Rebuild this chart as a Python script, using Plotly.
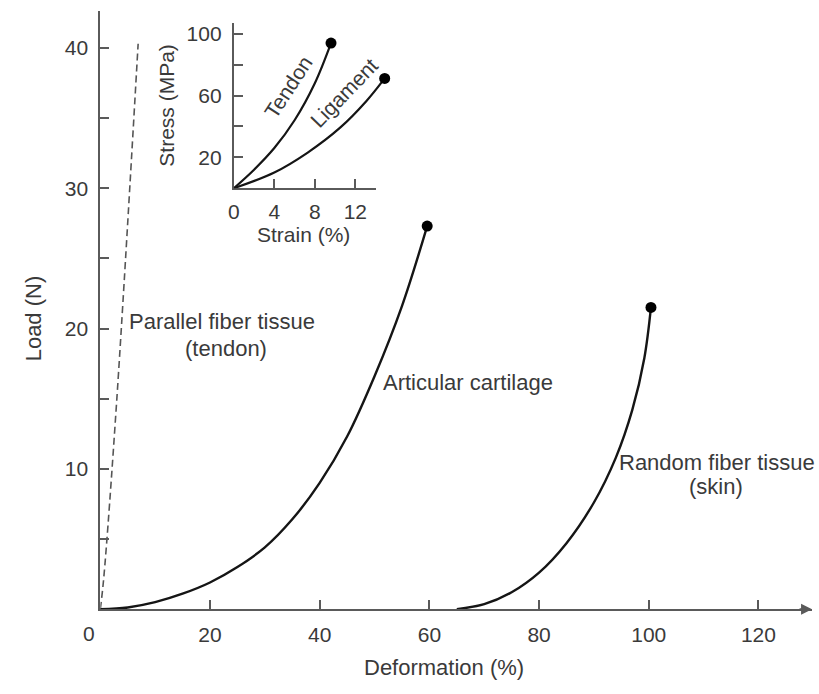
import plotly.graph_objects as go

# ---------------- data ----------------
# Main chart: Load (N) vs Deformation (%)
parallel_x = [0, 0.6, 3.0, 6.9]
parallel_y = [0, 2.1, 14.9, 40.3]

cartilage_x = [0, 5, 10, 15, 20, 25, 30, 35, 40, 45, 50, 55, 59.6]
cartilage_y = [0, 0.12, 0.5, 1.1, 1.9, 3.0, 4.4, 6.4, 9.0, 12.3, 16.6, 21.6, 27.3]

skin_x = [65, 70, 75, 80, 85, 90, 94, 97, 99.2, 100.4]
skin_y = [0, 0.35, 1.2, 2.6, 4.7, 7.6, 10.8, 14.2, 17.9, 21.5]

main_x_ticks = [20, 40, 60, 80, 100, 120]
main_y_ticks = [5, 10, 15, 20, 25, 30, 35, 40]
main_y_labels = ["", "10", "", "20", "", "30", "", "40"]

# Inset: Stress (MPa) vs Strain (%)
tendon_x = [0, 2, 4, 6, 8, 9.6]
tendon_y = [0, 12, 26, 44, 68, 94]
ligament_x = [0, 4, 7.3, 10.5, 13.1, 14.9]
ligament_y = [0, 10.2, 23.1, 39.2, 56.5, 71.1]

inset_x_ticks = [0, 4, 8, 12]
inset_y_ticks = [20, 40, 60, 80, 100]
inset_y_labels = ["20", "", "60", "", "100"]

# ---------------- layout helpers ----------------
W, H = 819, 694
def fx(px):
    return px / W
def fy(py):
    return 1 - py / H

FONT = "Liberation Sans, Arial, sans-serif"
TXT = "#3a3a3a"
AX = "#5a5a5a"
LINE = "#151515"

fig = go.Figure()

# main curves
fig.add_trace(go.Scatter(x=parallel_x, y=parallel_y, mode="lines",
                         line=dict(color="#555", width=1.6, dash="7px,4px", shape="spline"),
                         xaxis="x", yaxis="y", hoverinfo="skip"))
for xs, ys in [(cartilage_x, cartilage_y), (skin_x, skin_y)]:
    fig.add_trace(go.Scatter(x=xs, y=ys, mode="lines",
                             line=dict(color=LINE, width=2.4, shape="spline"),
                             xaxis="x", yaxis="y", hoverinfo="skip"))
    fig.add_trace(go.Scatter(x=[xs[-1]], y=[ys[-1]], mode="markers",
                             marker=dict(color="#000", size=11),
                             xaxis="x", yaxis="y", hoverinfo="skip", cliponaxis=False))

# inset: tendon on the visible inset axes, ligament on a wider hidden x-axis with the same scale
for xs, ys, xa in [(tendon_x, tendon_y, "x2"), (ligament_x, ligament_y, "x3")]:
    fig.add_trace(go.Scatter(x=xs, y=ys, mode="lines",
                             line=dict(color=LINE, width=2.2, shape="spline"),
                             xaxis=xa, yaxis="y2", hoverinfo="skip"))
    fig.add_trace(go.Scatter(x=[xs[-1]], y=[ys[-1]], mode="markers",
                             marker=dict(color="#000", size=11),
                             xaxis=xa, yaxis="y2", hoverinfo="skip", cliponaxis=False))

# main axis geometry
mx0, mx1 = 95, 812
px_per_x = 5.525
my0, my1 = 609, 10
px_per_y = 14.05
main_xmax = (mx1 - mx0) / px_per_x
main_ymax = (my0 - my1) / px_per_y

# inset geometry
ix0, ix1, ix3 = 229.5, 373, 400
ipx_x = 10.2
iy0, iy1 = 187.5, 22
inset_xmax = (ix1 - ix0) / ipx_x
inset_x3max = (ix3 - ix0) / ipx_x
inset_ymax = 107

tickfont = dict(family=FONT, size=21, color=TXT)
axstyle = dict(showgrid=False, zeroline=False, showline=True, linecolor=AX, linewidth=2,
               ticks="inside", ticklen=9, tickwidth=2, tickcolor=AX, tickfont=tickfont)

fig.update_layout(
    width=W, height=H,
    margin=dict(l=0, r=0, t=0, b=0),
    paper_bgcolor="white", plot_bgcolor="rgba(0,0,0,0)",
    showlegend=False,
    font=dict(family=FONT, color=TXT),
    xaxis=dict(domain=[fx(mx0), fx(mx1)], range=[0, main_xmax], anchor="y",
               tickvals=main_x_ticks, ticklabelstandoff=6, **axstyle),
    yaxis=dict(domain=[fy(my0), fy(my1)], range=[0, main_ymax], anchor="x",
               tickvals=main_y_ticks, ticktext=main_y_labels, ticklabelstandoff=6, **axstyle),
    xaxis2=dict(domain=[fx(ix0), fx(ix1)], range=[0, inset_xmax], anchor="y2",
                tickvals=inset_x_ticks, ticklabelstandoff=4, **axstyle),
    xaxis3=dict(domain=[fx(ix0), fx(ix3)], range=[0, inset_x3max], anchor="y2",
                visible=False),
    yaxis2=dict(domain=[fy(iy0), fy(iy1)], range=[0, inset_ymax], anchor="x2",
                tickvals=inset_y_ticks, ticktext=inset_y_labels, ticklabelstandoff=6, **axstyle),
)

ann = []
def add_text(text, px, py, angle=0, size=22):
    ann.append(dict(text=text, x=fx(px), y=fy(py), xref="paper", yref="paper",
                    showarrow=False, textangle=angle, xanchor="center", yanchor="middle",
                    font=dict(family=FONT, size=size, color=TXT)))

add_text("Deformation (%)", 441, 667)
add_text("Load (N)", 28, 318, angle=-90)
add_text("0", 84, 633, size=21)
add_text("Strain (%)", 300, 234, size=21)
add_text("Stress (MPa)", 162, 104, angle=-90, size=21)
add_text("Tendon", 285, 86, angle=-57, size=21)
add_text("Ligament", 341, 92, angle=-46, size=21)
add_text("Parallel fiber tissue", 218, 321)
add_text("(tendon)", 222, 348)
add_text("Articular cartilage", 465, 382)
add_text("Random fiber tissue", 716, 462)
add_text("(skin)", 715, 486)

# arrow head at the end of the deformation axis
ann.append(dict(x=main_xmax, y=0, xref="x", yref="y", ax=-14, ay=0,
                showarrow=True, arrowhead=2, arrowsize=1.1, arrowwidth=2,
                arrowcolor=AX, text=""))

fig.update_layout(annotations=ann)

fig.write_html("out.html", config={"displayModeBar": False},
               post_script="document.body.style.margin='0';")
